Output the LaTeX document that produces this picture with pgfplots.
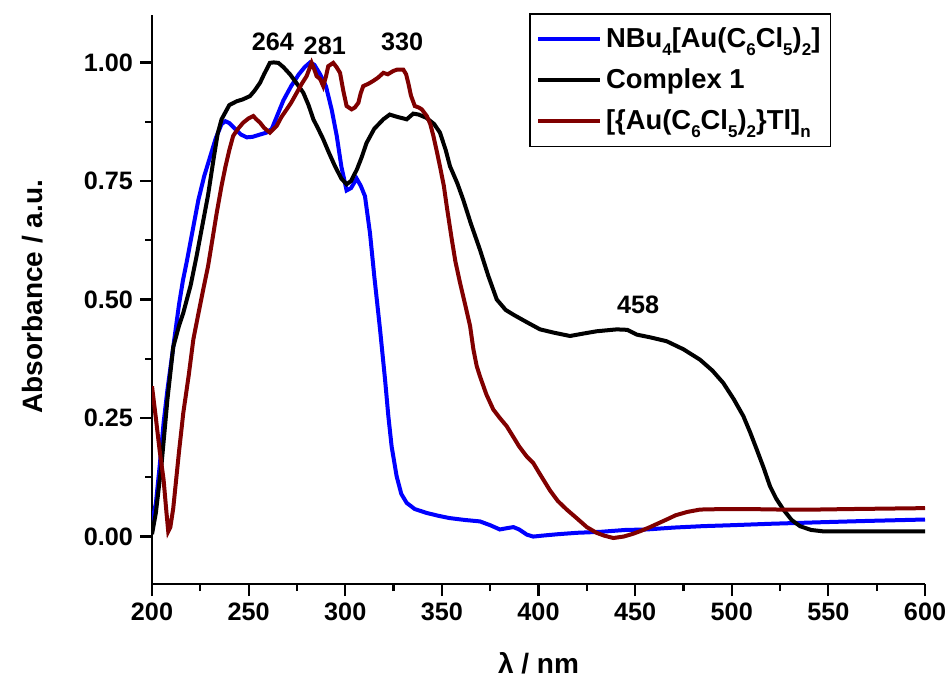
\documentclass[border=0pt]{standalone}
\usepackage{fontspec}
\setmainfont{Liberation Sans}
\usepackage{pgfplots}
\pgfplotsset{compat=1.18}
\definecolor{dred}{RGB}{128,0,0}
\definecolor{bblue}{RGB}{0,0,255}
\newcommand{\fs}[1]{\fontsize{#1}{#1}\selectfont\bfseries}
\newcommand{\sub}[1]{\raisebox{-4pt}{\fontsize{8.5}{8.5}\selectfont #1}}
\begin{document}
\begin{tikzpicture}
\path[use as bounding box] (-76pt,-47.5pt) rectangle (399.5pt,292pt);
\begin{axis}[
  at={(0,0)}, anchor=south west,
  width=386.5pt, height=284.5pt, scale only axis,
  xmin=200, xmax=600, ymin=-0.1, ymax=1.1,
  axis x line=bottom, axis y line=left,
  axis line style={-, line width=1.2pt},
  xtick={200,250,...,600}, ytick={0,0.25,0.5,0.75,1},
  minor tick num=1,
  tick align=outside,
  major tick length=6pt, minor tick length=3.5pt,
  every tick/.style={black, line width=1.1pt},
  /pgf/number format/assume math mode=true,
  yticklabel style={/pgf/number format/.cd, fixed, fixed zerofill, precision=2},
  xticklabel style={/pgf/number format/.cd, fixed, 1000 sep={}},
  tick label style={font=\fs{12.6}},
  xlabel={λ / nm}, ylabel={Absorbance / a.u.},
  label style={font=\fs{14}},
  x label style={at={(axis description cs:0.5,0)}, anchor=center, yshift=-39.5pt},
  y label style={at={(axis description cs:-0.154,0.505)}, anchor=center},
  legend cell align=left,
  legend style={at={(rel axis cs:0.488,1.0035)}, anchor=north west, draw=black, line width=0.8pt,
     font=\fs{13.7}, inner xsep=3pt, inner ysep=5pt, row sep=5pt},
  legend image code/.code={\draw[#1, line width=2pt] (0pt,0pt) -- (31pt,0pt);},
  every axis plot/.append style={line width=2pt},
]
\addplot[bblue] coordinates {
(200,0.03) (202,0.07) (204,0.15) (206,0.24) (208,0.31) (210,0.37) (212,0.43) (214,0.49) (216,0.54) (218,0.58) (221,0.645)
(224,0.71) (227,0.76) (230,0.80) (233,0.84) (236,0.87) (238,0.876) (240,0.872) (243,0.86) (246,0.848) (249,0.842)
(252,0.843) (256,0.848) (259.3,0.852) (262,0.86) (265,0.89) (268,0.92) (272,0.95) (276,0.975) (279,0.99) (281.8,1.0)
(284,0.995) (287,0.975) (290,0.95) (293,0.90) (295.6,0.845) (298,0.78) (300.7,0.73) (303,0.735) (305.9,0.755) (308,0.74)
(310.2,0.718) (312.8,0.64) (315,0.55) (318,0.437) (320.6,0.331) (322.3,0.254) (324,0.19) (326.6,0.127) (329,0.09) (331.8,0.071)
(336,0.058) (342,0.05) (348,0.044) (354,0.039) (362,0.035) (369.7,0.032) (375,0.024) (380,0.015) (384,0.018) (387,0.02)
(390,0.015) (394,0.004) (397.3,0.0) (402,0.002) (410,0.005) (420,0.008) (432,0.01) (445,0.014) (456,0.015) (470,0.019)
(485,0.022) (500,0.024) (520,0.027) (544,0.03) (570,0.033) (590,0.035) (600,0.036)
};
\addlegendentry{NBu\sub{4}[Au(C\sub{6}Cl\sub{5})\sub{2}]}
\addplot[black] coordinates {
(200,0.005) (202,0.05) (205,0.155) (208,0.29) (211,0.40) (214,0.445) (216.2,0.472) (220,0.53) (223,0.59) (226,0.655)
(229,0.72) (232,0.80) (234,0.85) (236,0.88) (240,0.91) (243.8,0.918) (247,0.922) (250.7,0.929) (253,0.94) (255.9,0.957)
(258,0.975) (261,0.999) (263,1.0) (265.4,0.999) (268,0.99) (271.4,0.975) (275,0.955) (278.3,0.936) (281,0.91) (283.5,0.88)
(286,0.86) (288.6,0.838) (291.5,0.81) (294.7,0.781) (298,0.755) (300.7,0.743) (303,0.75) (306,0.774) (308.5,0.80) (311,0.83)
(315,0.86) (319.7,0.88) (323,0.89) (327,0.885) (331.8,0.88) (335.2,0.892) (338,0.89) (342,0.883) (346,0.87) (349,0.852)
(352,0.815) (354.2,0.781) (358,0.745) (361,0.711) (365,0.66) (369.7,0.605) (374,0.55) (378.4,0.50) (383,0.478) (387,0.468)
(394,0.452) (400.8,0.437) (408,0.43) (416.3,0.423) (423,0.428) (430.1,0.433) (440.5,0.437) (446,0.436) (450.8,0.426) (458,0.42)
(466.3,0.412) (475,0.395) (483.6,0.373) (490,0.35) (495.6,0.324) (501,0.29) (506,0.254) (509.5,0.22) (512.9,0.184) (516.5,0.145)
(519.8,0.106) (523,0.08) (526.7,0.057) (531,0.035) (535.3,0.022) (541,0.014) (547.4,0.011) (560,0.011) (600,0.011)
};
\addlegendentry{Complex 1}
\addplot[dred] coordinates {
(200,0.317) (202,0.25) (204,0.18) (206,0.12) (207.5,0.05) (208.4,0.011) (209.5,0.02) (211,0.06) (212,0.10) (214,0.18)
(216.2,0.261) (219,0.34) (221.4,0.416) (224,0.47) (226.5,0.521) (229,0.57) (231,0.62) (233.5,0.683) (236,0.74) (238,0.78)
(240,0.815) (242,0.845) (244.5,0.86) (247.2,0.873) (250,0.882) (252.4,0.887) (254,0.88) (255.9,0.873) (258,0.862) (261,0.852)
(264.5,0.866) (267,0.885) (269.7,0.901) (272,0.915) (274.9,0.936) (277.5,0.955) (280,0.971) (282.6,0.999) (284,0.985) (285.2,0.971)
(287,0.965) (288.6,0.95) (290,0.97) (291.2,0.992) (293.8,0.999) (295.5,0.99) (297.3,0.978) (299,0.94) (300.7,0.908) (303.3,0.901)
(305,0.905) (306.8,0.915) (308,0.935) (309.3,0.95) (312,0.955) (314.5,0.961) (317,0.968) (319.7,0.978) (322,0.975) (324.9,0.982)
(327,0.985) (330,0.985) (331.5,0.975) (332.6,0.957) (334,0.93) (336,0.908) (338,0.905) (339.6,0.901) (342.2,0.887) (344,0.87)
(345.6,0.845) (347.5,0.81) (349,0.781) (351,0.74) (352.5,0.697) (355,0.63) (357,0.58) (359.4,0.535) (362,0.49) (364.6,0.444)
(366.3,0.395) (368,0.36) (369.7,0.338) (373,0.30) (376.6,0.268) (380,0.25) (383.5,0.233) (387,0.21) (390,0.19) (393.9,0.169)
(397.3,0.155) (401,0.13) (406,0.097) (410,0.075) (414.6,0.057) (420,0.038) (425,0.02) (430,0.008) (434,0.002) (438.7,-0.003)
(444,0.0) (449,0.006) (453,0.012) (457.7,0.02) (462,0.028) (466.3,0.036) (471,0.045) (477,0.052) (483.6,0.057) (495,0.058)
(509.4,0.058) (525,0.057) (544,0.057) (560,0.058) (580,0.059) (600,0.06)
};
\addlegendentry{[\{Au(C\sub{6}Cl\sub{5})\sub{2}\}Tl]\sub{n}}
\node[font=\fs{12.6}] at (axis cs:262.6,1.044) {264};
\node[font=\fs{12.6}] at (axis cs:289.4,1.034) {281};
\node[font=\fs{12.6}] at (axis cs:329.4,1.044) {330};
\node[font=\fs{12.6}] at (axis cs:451.5,0.488) {458};
\end{axis}
\end{tikzpicture}
\end{document}
